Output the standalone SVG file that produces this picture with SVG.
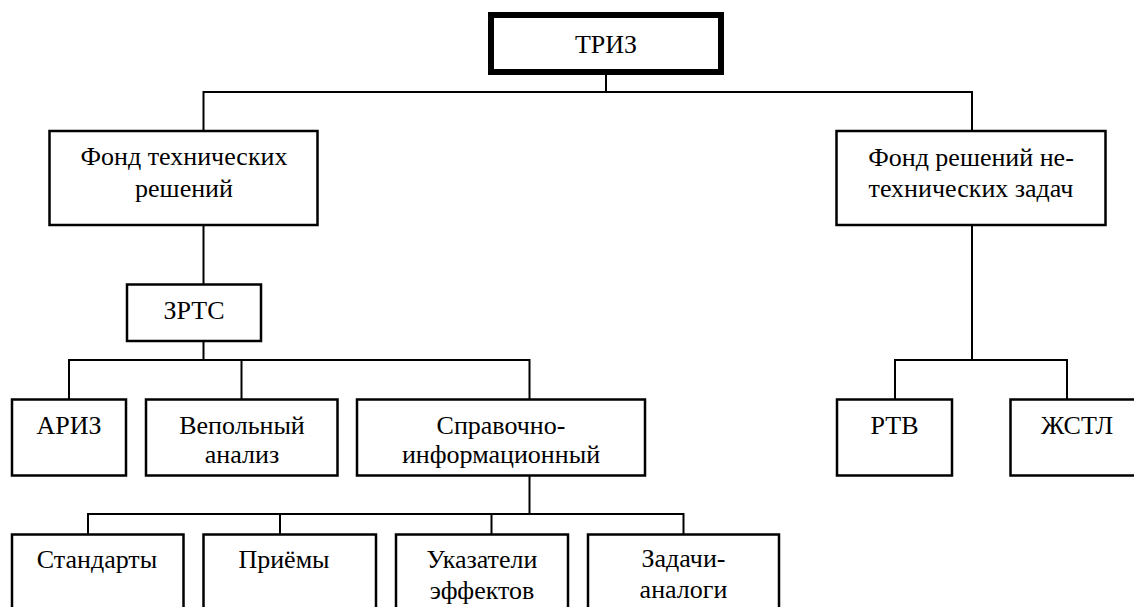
<svg xmlns="http://www.w3.org/2000/svg" width="1134" height="607" viewBox="0 0 1134 607">
<style>
  .box { fill: #ffffff; stroke: #000000; stroke-width: 2.5; }
  .root { fill: #ffffff; stroke: #000000; stroke-width: 6; }
  .conn { fill: none; stroke: #000000; stroke-width: 2; }
</style>
<rect width="1134" height="607" fill="#ffffff"/>
<g id="connectors">
  <path class="conn" d="M606 75 V92"/>
  <path class="conn" d="M203.5 131 V92 H972 V131"/>
  <path class="conn" d="M203.5 225 V284.5"/>
  <path class="conn" d="M972 225 V360"/>
  <path class="conn" d="M895 399.5 V360 H1067 V399.5"/>
  <path class="conn" d="M203.5 341 V360"/>
  <path class="conn" d="M69 399.5 V360 H529.5 V399.5"/>
  <path class="conn" d="M241.5 360 V399.5"/>
  <path class="conn" d="M529.5 475.5 V514"/>
  <path class="conn" d="M88 534.5 V514 H683.5 V534.5"/>
  <path class="conn" d="M280 514 V534.5"/>
  <path class="conn" d="M491.5 514 V534.5"/>
</g>
<g id="nodes" font-family="Times New Roman" font-size="26" text-anchor="middle" fill="#000000">
<g id="triz">
  <rect class="root" x="491" y="15" width="230" height="57"/>
  <text font-family="Times New Roman" x="606" y="53">ТРИЗ</text>
</g>
<g id="fond-tech">
  <rect class="box" x="49.5" y="131" width="268" height="94"/>
  <text font-family="Times New Roman" x="184" y="164.5">Фонд технических</text>
  <text font-family="Times New Roman" x="184" y="196.5">решений</text>
</g>
<g id="fond-netech">
  <rect class="box" x="836.5" y="131" width="269" height="94"/>
  <text font-family="Times New Roman" x="971" y="166">Фонд решений не-</text>
  <text font-family="Times New Roman" x="971" y="197">технических задач</text>
</g>
<g id="zrts">
  <rect class="box" x="127" y="284.5" width="134" height="56.5"/>
  <text font-family="Times New Roman" x="194" y="319">ЗРТС</text>
</g>
<g id="ariz">
  <rect class="box" x="12" y="399.5" width="114" height="76"/>
  <text font-family="Times New Roman" x="69" y="434">АРИЗ</text>
</g>
<g id="vepol">
  <rect class="box" x="146" y="399.5" width="191.5" height="76"/>
  <text font-family="Times New Roman" x="242" y="434">Вепольный</text>
  <text font-family="Times New Roman" x="242" y="463">анализ</text>
</g>
<g id="sprav">
  <rect class="box" x="357" y="399.5" width="288" height="76"/>
  <text font-family="Times New Roman" x="501" y="434">Справочно-</text>
  <text font-family="Times New Roman" x="501" y="463">информационный</text>
</g>
<g id="rtv">
  <rect class="box" x="837" y="399.5" width="115" height="76"/>
  <text font-family="Times New Roman" x="894.5" y="434">РТВ</text>
</g>
<g id="zhstl">
  <rect class="box" x="1010.5" y="399.5" width="134" height="76"/>
  <text font-family="Times New Roman" x="1077" y="434">ЖСТЛ</text>
</g>
<g id="standarty">
  <rect class="box" x="12" y="534.5" width="171.5" height="100"/>
  <text font-family="Times New Roman" x="97" y="568">Стандарты</text>
</g>
<g id="priemy">
  <rect class="box" x="203.5" y="534.5" width="172.5" height="100"/>
  <text font-family="Times New Roman" x="284" y="568">Приёмы</text>
</g>
<g id="ukazateli">
  <rect class="box" x="396" y="534.5" width="172" height="100"/>
  <text font-family="Times New Roman" x="482" y="568">Указатели</text>
  <text font-family="Times New Roman" x="482" y="599">эффектов</text>
</g>
<g id="zadachi">
  <rect class="box" x="588" y="534.5" width="191" height="100"/>
  <text font-family="Times New Roman" x="683.5" y="567">Задачи-</text>
  <text font-family="Times New Roman" x="683.5" y="598">аналоги</text>
</g>
</g>
</svg>
